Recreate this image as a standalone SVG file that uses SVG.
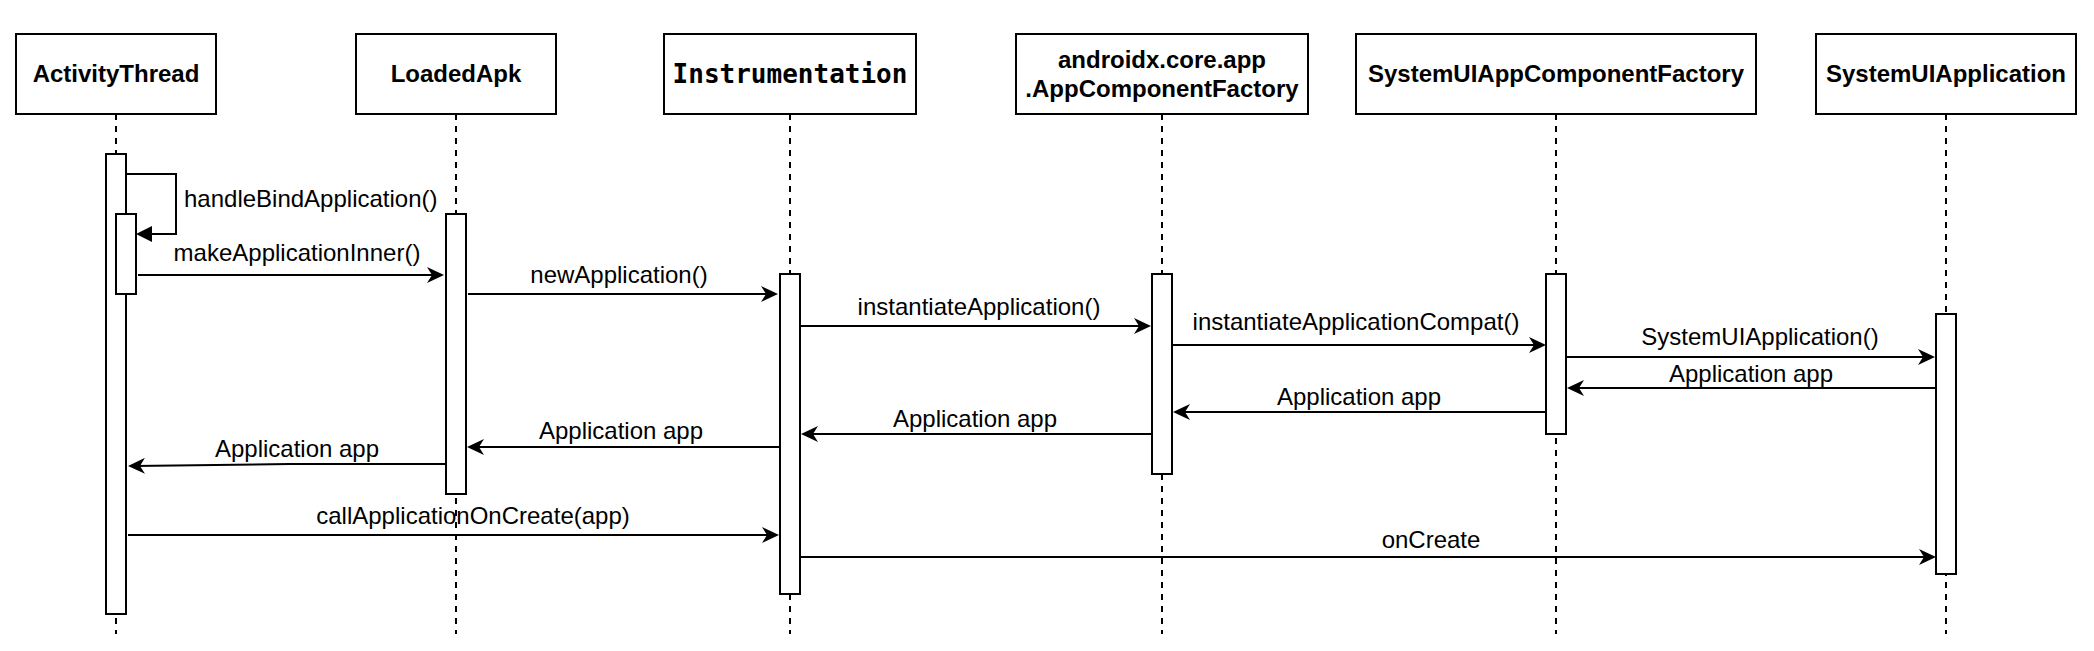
<svg xmlns="http://www.w3.org/2000/svg" width="2094" height="651" viewBox="0 0 2094 651">
<style>
.box{fill:#fff;stroke:#000;stroke-width:2}
.bar{fill:#fff;stroke:#000;stroke-width:2}
.life{stroke:#000;stroke-width:2;stroke-dasharray:6 6;fill:none}
.title{font-family:"Liberation Sans",Arial,sans-serif;font-size:24px;font-weight:bold;text-anchor:middle;fill:#000}
.mono{font-family:"DejaVu Sans Mono","Liberation Mono",monospace;font-size:26px;font-weight:bold;text-anchor:middle;fill:#000}
.lbl{font-family:"Liberation Sans",Arial,sans-serif;font-size:24px;text-anchor:middle;fill:#000}
.msg{fill:none;stroke:#000;stroke-width:2;marker-end:url(#arr)}
.self{fill:none;stroke:#000;stroke-width:2;marker-end:url(#blk)}
</style>
<defs>
<marker id="arr" viewBox="0 0 17 16" refX="11" refY="8" markerWidth="17" markerHeight="16" markerUnits="userSpaceOnUse" orient="auto"><path d="M0,0 L17,8 L0,16 L5,8 Z" fill="#000"/></marker>
<marker id="blk" viewBox="0 0 16 16" refX="10" refY="8" markerWidth="16" markerHeight="16" markerUnits="userSpaceOnUse" orient="auto"><path d="M0,0 L16,8 L0,16 Z" fill="#000"/></marker>
</defs>
<rect width="2094" height="651" fill="#fff"/>

<g id="activitythread">
<line class="life" x1="116" y1="114" x2="116" y2="634"/>
<rect class="box" x="16" y="34" width="200" height="80"/>
<text class="title" x="116" y="82">ActivityThread</text>
<rect class="bar" x="106" y="154" width="20" height="460"/>
<rect class="bar" x="116" y="214" width="20" height="80"/>
</g>

<g id="loadedapk">
<line class="life" x1="456" y1="114" x2="456" y2="634"/>
<rect class="box" x="356" y="34" width="200" height="80"/>
<text class="title" x="456" y="82">LoadedApk</text>
<rect class="bar" x="446" y="214" width="20" height="280"/>
</g>

<g id="instrumentation">
<line class="life" x1="790" y1="114" x2="790" y2="634"/>
<rect class="box" x="664" y="34" width="252" height="80"/>
<text class="mono" x="790" y="83">Instrumentation</text>
<rect class="bar" x="780" y="274" width="20" height="320"/>
</g>

<g id="appcomponentfactory">
<line class="life" x1="1162" y1="114" x2="1162" y2="634"/>
<rect class="box" x="1016" y="34" width="292" height="80"/>
<text class="title" x="1162" y="68">androidx.core.app</text>
<text class="title" x="1162" y="97">.AppComponentFactory</text>
<rect class="bar" x="1152" y="274" width="20" height="200"/>
</g>

<g id="systemuiappcomponentfactory">
<line class="life" x1="1556" y1="114" x2="1556" y2="634"/>
<rect class="box" x="1356" y="34" width="400" height="80"/>
<text class="title" x="1556" y="82">SystemUIAppComponentFactory</text>
<rect class="bar" x="1546" y="274" width="20" height="160"/>
</g>

<g id="systemuiapplication">
<line class="life" x1="1946" y1="114" x2="1946" y2="634"/>
<rect class="box" x="1816" y="34" width="260" height="80"/>
<text class="title" x="1946" y="82">SystemUIApplication</text>
<rect class="bar" x="1936" y="314" width="20" height="260"/>
</g>

<g id="connectors">
<path class="self" d="M126,174 H176 V234 H142"/>
<text class="lbl" x="184" y="207" style="text-anchor:start">handleBindApplication()</text>

<path class="msg" d="M138,275 H438"/>
<text class="lbl" x="297" y="261">makeApplicationInner()</text>

<path class="msg" d="M468,294 H772"/>
<text class="lbl" x="619" y="283">newApplication()</text>

<path class="msg" d="M801,326 H1145"/>
<text class="lbl" x="979" y="315">instantiateApplication()</text>

<path class="msg" d="M1173,345 H1540"/>
<text class="lbl" x="1356" y="330">instantiateApplicationCompat()</text>

<path class="msg" d="M1567,357 H1929"/>
<text class="lbl" x="1760" y="345">SystemUIApplication()</text>

<path class="msg" d="M1936,388 H1573"/>
<text class="lbl" x="1751" y="382">Application app</text>

<path class="msg" d="M1546,412 H1179"/>
<text class="lbl" x="1359" y="405">Application app</text>

<path class="msg" d="M1152,434 H807"/>
<text class="lbl" x="975" y="427">Application app</text>

<path class="msg" d="M780,447 H473"/>
<text class="lbl" x="621" y="439">Application app</text>

<path class="msg" d="M446,464 L290,464 L134,466"/>
<text class="lbl" x="297" y="457">Application app</text>

<path class="msg" d="M128,535 H773"/>
<text class="lbl" x="473" y="524">callApplicationOnCreate(app)</text>

<path class="msg" d="M801,557 H1930"/>
<text class="lbl" x="1431" y="548">onCreate</text>
</g>
</svg>
